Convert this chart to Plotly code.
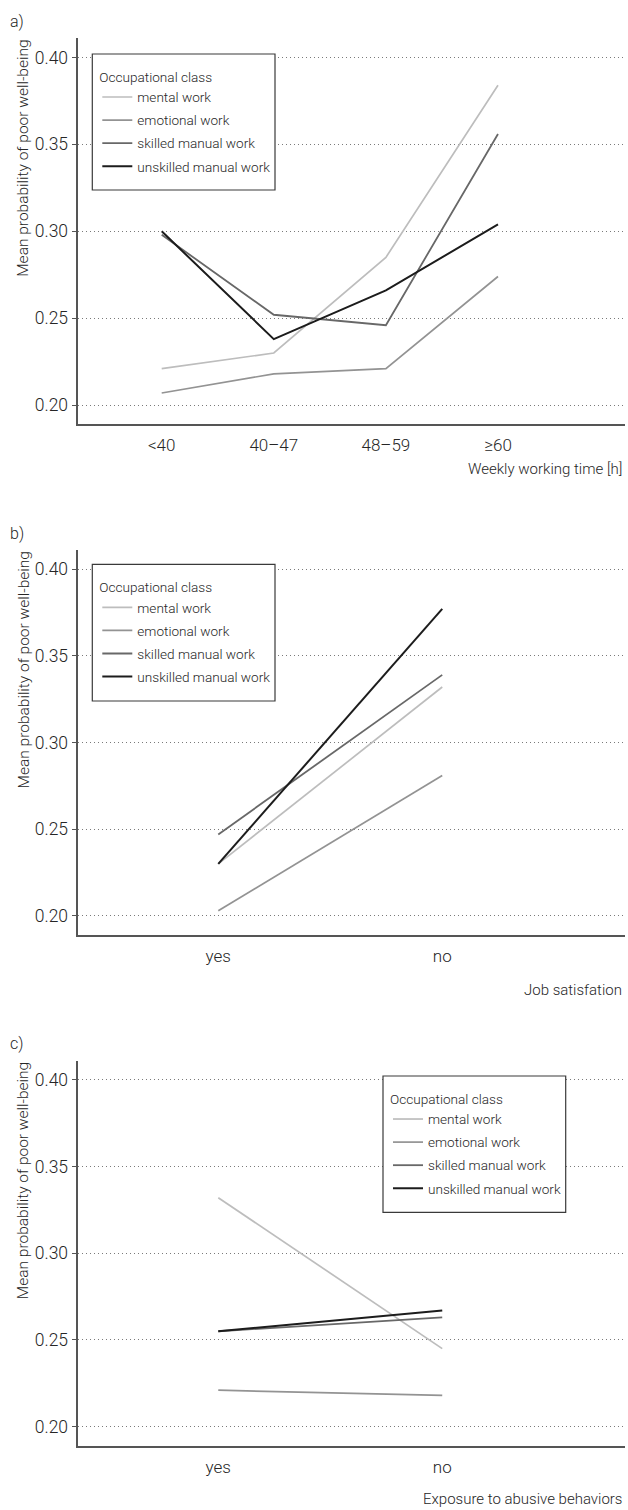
import plotly.graph_objects as go

# ---------------- data ----------------
classes = ["mental work", "emotional work", "skilled manual work", "unskilled manual work"]

hours_cats = ["<40", "40–47", "48–59", "≥60"]
a_mental = [0.221, 0.230, 0.285, 0.384]
a_emotional = [0.207, 0.218, 0.221, 0.274]
a_skilled = [0.298, 0.252, 0.246, 0.356]
a_unskilled = [0.300, 0.238, 0.266, 0.304]

sat_cats = ["yes", "no"]
b_mental = [0.230, 0.332]
b_emotional = [0.203, 0.281]
b_skilled = [0.247, 0.339]
b_unskilled = [0.230, 0.377]

abuse_cats = ["yes", "no"]
c_mental = [0.332, 0.245]
c_emotional = [0.221, 0.218]
c_skilled = [0.255, 0.263]
c_unskilled = [0.255, 0.267]

y_ticks = [0.20, 0.25, 0.30, 0.35, 0.40]
y_ticktext = ["0.20", "0.25", "0.30", "0.35", "0.40"]

# ---------------- style ----------------
W, H = 628, 1510
FONT = "Roboto, Liberation Sans, sans-serif"
TXT = "#262626"
AXC = "#555555"
colors = ["#bdbdbd", "#939393", "#686868", "#1c1c1c"]
widths = [1.7, 1.7, 1.8, 2.0]
LEGFS = 13.6

def px_x(p):
    return p / W

def px_y(p):
    return 1 - p / H

X0, X1 = 78.3, 625.0
panels = [
    dict(cats=hours_cats, series=[a_mental, a_emotional, a_skilled, a_unskilled],
         top=38.3, bottom=424.3, xr=[-0.744, 4.133], xtitle="Weekly working time [h]",
         xt_off=45, label="a)", box=(92.3, 54.0, 275.0, 190.0)),
    dict(cats=sat_cats, series=[b_mental, b_emotional, b_skilled, b_unskilled],
         top=550.0, bottom=935.0, xr=[-0.625, 1.816], xtitle="Job satisfation",
         xt_off=55, label="b)", box=(92.3, 564.3, 275.0, 701.0)),
    dict(cats=abuse_cats, series=[c_mental, c_emotional, c_skilled, c_unskilled],
         top=1060.7, bottom=1445.7, xr=[-0.625, 1.816], xtitle="Exposure to abusive behaviors",
         xt_off=53, label="c)", box=(383.0, 1076.0, 565.7, 1212.3)),
]

fig = go.Figure()
layout = dict(
    width=W, height=H,
    margin=dict(l=0, r=0, t=0, b=0),
    paper_bgcolor="white", plot_bgcolor="white",
    font=dict(family=FONT, color=TXT, size=15, weight=300),
    showlegend=True,
    annotations=[],
    shapes=[],
)

for i, p in enumerate(panels):
    n = i + 1
    xa = "x" if n == 1 else f"x{n}"
    ya = "y" if n == 1 else f"y{n}"
    legname = "legend" if n == 1 else f"legend{n}"
    xpos = list(range(len(p["cats"])))
    for k, name in enumerate(classes):
        fig.add_trace(go.Scatter(
            x=xpos, y=p["series"][k], mode="lines", name=name,
            line=dict(color=colors[k], width=widths[k]),
            xaxis=xa, yaxis=ya, legend=legname, legendgroup=f"{legname}_{k}",
            hoverinfo="skip",
        ))
    xkey = "xaxis" if n == 1 else f"xaxis{n}"
    ykey = "yaxis" if n == 1 else f"yaxis{n}"
    layout[xkey] = dict(
        domain=[px_x(X0), px_x(X1)], anchor=ya, range=p["xr"],
        tickvals=xpos, ticktext=p["cats"],
        showline=True, linecolor=AXC, linewidth=1.5,
        showgrid=False, zeroline=False,
        ticks="outside", ticklen=5, tickcolor="rgba(0,0,0,0)",
        tickfont=dict(family=FONT, size=17, color=TXT, weight=300),
    )
    layout[ykey] = dict(
        domain=[px_y(p["bottom"]), px_y(p["top"])], anchor=xa, range=[0.189, 0.411],
        tickvals=y_ticks, ticktext=y_ticktext,
        showline=True, linecolor=AXC, linewidth=1.5,
        showgrid=True, gridcolor="#7a7a7a", griddash="1px,3px", gridwidth=1,
        zeroline=False,
        ticks="outside", ticklen=5, tickcolor=AXC, tickwidth=1.2,
        tickfont=dict(family=FONT, size=17.5, color=TXT, weight=300),
    )
    bx0, by0, bx1, by1 = p["box"]
    # legend frame
    layout["shapes"].append(dict(
        type="rect", xref="paper", yref="paper",
        x0=px_x(bx0), x1=px_x(bx1), y0=px_y(by1), y1=px_y(by0),
        line=dict(color="#3a3a3a", width=1.2), fillcolor="white", layer="above",
    ))
    layout[legname] = dict(
        x=px_x(bx0 + 5), y=px_y(by0 + 10), xanchor="left", yanchor="top",
        xref="paper", yref="paper",
        bgcolor="rgba(0,0,0,0)", borderwidth=0,
        title=dict(text="Occupational class", font=dict(family=FONT, size=LEGFS, color=TXT, weight=300)),
        font=dict(family=FONT, size=LEGFS, color=TXT, weight=300),
        itemwidth=30, tracegroupgap=2.4, traceorder="grouped",
    )
    # y-axis title
    layout["annotations"].append(dict(
        text="Mean probability of poor well-being", textangle=-90,
        xref="paper", yref="paper", x=px_x(23), y=px_y(p["top"]),
        xanchor="center", yanchor="top", showarrow=False,
        font=dict(family=FONT, size=15.5, color=TXT, weight=300),
    ))
    # x-axis title
    layout["annotations"].append(dict(
        text=p["xtitle"], xref="paper", yref="paper",
        x=px_x(624), y=px_y(p["bottom"] + p["xt_off"]),
        xanchor="right", yanchor="middle", showarrow=False,
        font=dict(family=FONT, size=15, color=TXT, weight=300),
    ))
    # panel label
    layout["annotations"].append(dict(
        text=p["label"], xref="paper", yref="paper",
        x=px_x(8), y=px_y(p["top"] - 17),
        xanchor="left", yanchor="middle", showarrow=False,
        font=dict(family=FONT, size=16, color=TXT, weight=300),
    ))

fig.update_layout(**layout)
fig.write_html(
    "out.html",
    config={"displayModeBar": False},
    post_script="document.body.style.margin='0px';document.body.style.overflow='hidden';",
)
